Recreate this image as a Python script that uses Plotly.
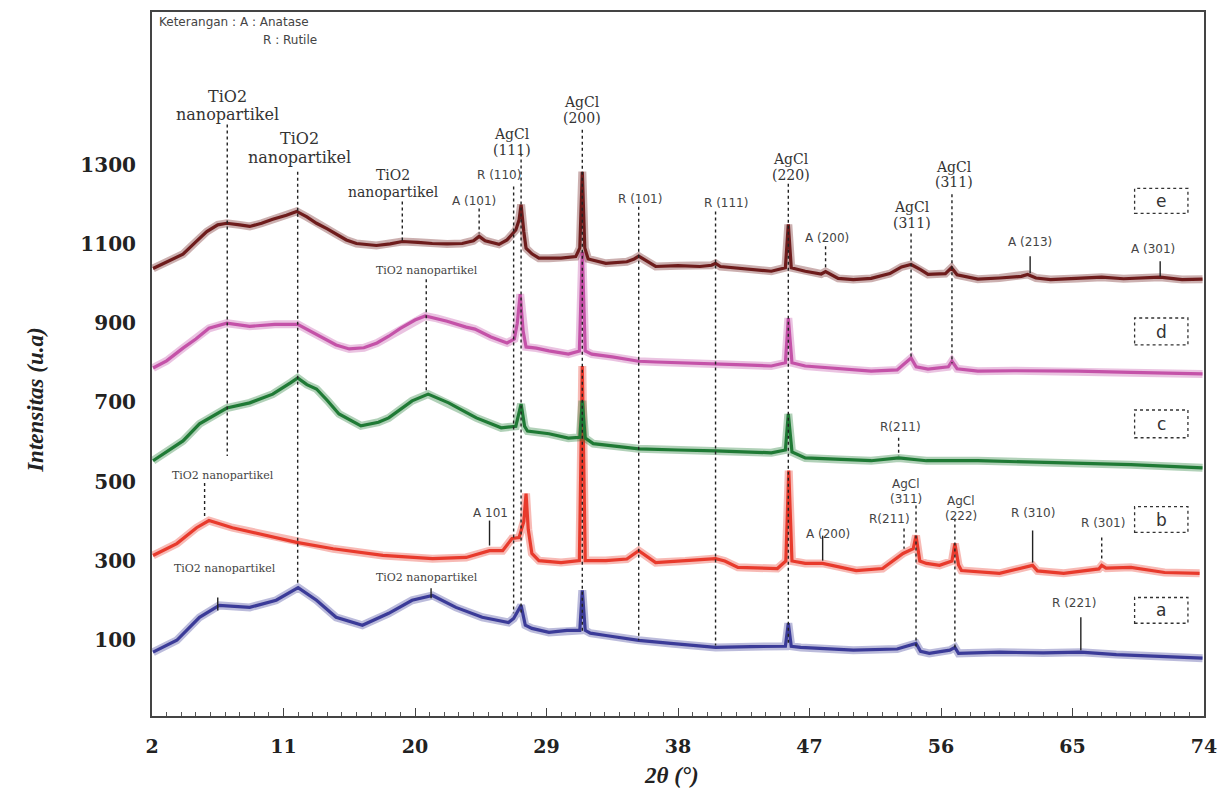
import plotly.graph_objects as go

# ---------------- data ----------------
two_theta_e = [2.07, 3.0, 4.12, 5.0, 5.75, 6.5, 7.12, 8.0, 8.69, 9.5, 10.26, 11.2, 11.9, 12.6, 13.26, 14.0,
               14.63, 15.3, 15.99, 17.36, 18.3, 19.13, 20.2, 21.18, 22.2, 23.23, 24.0, 24.39, 24.8, 25.75,
               26.3, 26.64, 26.9, 27.12, 27.26, 27.45, 27.6, 28.0, 28.48, 29.17, 30.0, 31.0, 31.28, 31.45,
               31.62, 31.85, 33.06, 34.5, 35.0, 35.31, 35.7, 36.47, 38.0, 39.5, 40.3, 40.57, 40.9, 42.5,
               44.39, 45.35, 45.55, 45.75, 46.71, 47.8, 48.1, 48.96, 50.0, 51.22, 52.5, 53.3, 53.95, 54.6,
               55.11, 56.3, 56.72, 57.1, 58.52, 60.0, 61.5, 61.93, 62.5, 63.5, 65.34, 67.0, 68.5, 70.0,
               71.0, 72.5, 73.9]
intensity_e = [1038, 1055, 1074, 1105, 1131, 1148, 1152, 1148, 1144, 1152, 1162, 1172, 1182, 1168, 1152, 1138,
               1124, 1110, 1101, 1096, 1100, 1106, 1104, 1101, 1100, 1101, 1108, 1119, 1108, 1099,
               1110, 1124, 1135, 1160, 1199, 1130, 1089, 1075, 1064, 1064, 1064, 1068, 1090, 1282,
               1090, 1062, 1051, 1055, 1062, 1069, 1060, 1043, 1045, 1043, 1046, 1051, 1043, 1038,
               1031, 1040, 1149, 1040, 1031, 1024, 1030, 1013, 1010, 1013, 1025, 1042, 1048, 1035,
               1023, 1025, 1040, 1022, 1011, 1014, 1018, 1023, 1014, 1010, 1013, 1016, 1012, 1014,
               1016, 1010, 1011]

two_theta_d = [2.07, 3.0, 4.12, 5.0, 5.9, 7.12, 8.69, 10.4, 11.97, 12.8, 13.7, 14.6, 15.5, 16.5, 17.4, 18.2,
               19.0, 20.0, 20.7, 21.5, 22.2, 23.5, 24.1, 25.2, 26.3, 26.8, 27.0, 27.2, 27.4, 27.6, 28.3,
               29.17, 30.5, 31.25, 31.45, 31.65, 32.1, 33.5, 35.31, 36.5, 38.5, 40.57, 42.5, 44.39, 45.35,
               45.55, 45.8, 46.71, 49.0, 51.22, 53.0, 53.95, 54.3, 55.11, 56.5, 56.75, 57.1, 58.52, 61.0,
               65.34, 69.0, 73.9]
intensity_d = [787, 805, 837, 860, 887, 900, 892, 897, 897, 880, 862, 845, 835, 838, 850, 867,
               887, 908, 918, 912, 905, 890, 885, 865, 850, 860, 900, 973, 880, 840, 837,
               830, 822, 830, 1080, 830, 822, 815, 804, 802, 800, 797, 795, 792, 800,
               913, 800, 792, 785, 779, 782, 812, 790, 784, 790, 804, 785, 779, 780,
               779, 776, 772]

two_theta_c = [2.07, 3.0, 4.12, 5.25, 7.12, 8.69, 10.26, 11.5, 11.97, 12.6, 13.26, 14.0, 14.8, 16.3, 17.5,
               18.2, 19.8, 20.9, 22.3, 23.5, 24.2, 25.9, 26.9, 27.26, 27.5, 27.7, 29.17, 30.5, 31.28,
               31.45, 31.65, 32.2, 35.31, 38.0, 40.57, 44.39, 45.35, 45.55, 45.8, 46.71, 49.0, 51.22,
               53.1, 55.0, 58.52, 61.93, 65.34, 69.0, 73.9]
intensity_c = [553, 575, 603, 646, 686, 699, 721, 750, 762, 745, 734, 705, 671, 641, 650,
               661, 704, 721, 699, 675, 661, 636, 640, 696, 640, 628, 621, 610, 612,
               704, 610, 596, 583, 580, 578, 573, 580, 671, 575, 560, 556, 553,
               560, 553, 553, 550, 548, 543, 535]

two_theta_b = [2.07, 3.7, 5.05, 5.9, 7.5, 9.3, 11.9, 14.4, 17.8, 21.2, 23.5, 25.1, 26.0, 26.64, 27.12,
               27.45, 27.6, 27.75, 28.0, 28.48, 30.0, 31.25, 31.45, 31.65, 33.06, 34.5, 35.31, 36.47,
               38.5, 40.57, 41.2, 42.1, 44.8, 45.38, 45.58, 45.8, 46.71, 47.9, 50.2, 52.0, 53.4, 54.1,
               54.29, 54.55, 55.0, 55.9, 56.75, 56.95, 57.2, 57.4, 60.0, 62.27, 62.6, 64.4, 66.8, 67.0,
               67.3, 69.0, 71.3, 73.7]
intensity_b = [314, 344, 384, 402, 384, 369, 347, 331, 314, 306, 309, 326, 326, 357, 359,
               400, 470, 380, 319, 301, 296, 301, 792, 301, 301, 305, 326, 296,
               300, 306, 300, 284, 281, 300, 528, 300, 294, 294, 276, 281, 319, 331,
               364, 300, 294, 289, 300, 344, 290, 276, 269, 289, 275, 269, 280, 289,
               282, 284, 271, 269]

two_theta_a = [2.07, 3.7, 5.25, 6.6, 8.69, 10.5, 12.0, 13.26, 14.6, 16.4, 18.2, 19.8, 21.2, 22.8, 24.6,
               26.4, 26.75, 27.26, 27.55, 28.0, 29.17, 30.4, 31.28, 31.45, 31.65, 32.0, 33.06, 35.31,
               37.5, 40.57, 43.0, 45.35, 45.55, 45.75, 46.4, 50.0, 53.0, 54.29, 54.6, 55.2, 56.6,
               56.95, 57.2, 60.0, 63.0, 65.57, 68.0, 71.0, 73.9]
intensity_a = [70, 100, 158, 188, 183, 201, 233, 201, 158, 138, 168, 201, 213, 183, 158,
               145, 155, 188, 138, 130, 120, 125, 125, 226, 125, 118, 112, 100,
               92, 82, 84, 85, 143, 85, 82, 75, 78, 92, 72, 67, 75,
               82, 67, 70, 68, 70, 64, 60, 55]

sample_names = ["a", "b", "c", "d", "e"]
x_tick_values = [2, 11, 20, 29, 38, 47, 56, 65, 74]
y_tick_values = [100, 300, 500, 700, 900, 1100, 1300]

# ---------------- figure ----------------
series = [
    (two_theta_a, intensity_a, "#3b3b98", "rgba(59,59,152,0.35)"),
    (two_theta_b, intensity_b, "#e83a2c", "rgba(232,58,44,0.35)"),
    (two_theta_c, intensity_c, "#1f7a35", "rgba(31,122,53,0.35)"),
    (two_theta_d, intensity_d, "#c452a8", "rgba(196,82,168,0.35)"),
    (two_theta_e, intensity_e, "#6e1c1c", "rgba(110,28,28,0.35)"),
]

fig = go.Figure()
for (xs, ys, col, halo), name in zip(series, sample_names):
    fig.add_trace(go.Scatter(x=xs, y=ys, mode="lines", name=name + " halo",
                             line=dict(color=halo, width=8), showlegend=False,
                             hoverinfo="skip"))
    fig.add_trace(go.Scatter(x=xs, y=ys, mode="lines", name=name,
                             line=dict(color=col, width=3.2), showlegend=False,
                             hoverinfo="skip"))

# peak marker lines: x, top, bottom, dash
marker_lines = [
    (7.15, 1401, 565, "dot"), (11.97, 1282, 238, "dot"), (19.13, 1207, 1106, "dot"),
    (24.39, 1189, 1126, "dot"), (26.75, 1245, 168, "dot"), (27.26, 1328, 168, "dot"),
    (31.45, 1388, 120, "dot"), (35.31, 1194, 100, "dot"), (40.57, 1182, 87, "dot"),
    (45.55, 1252, 87, "dot"), (48.1, 1094, 1036, "dot"), (53.95, 1126, 809, "dot"),
    (56.75, 1225, 799, "dot"), (62.1, 1069, 1026, "solid"), (71.0, 1056, 1018, "solid"),
    (20.77, 1011, 724, "dot"), (53.1, 611, 565, "dot"), (5.6, 497, 407, "dot"),
    (25.1, 402, 339, "solid"), (47.9, 364, 301, "solid"), (53.47, 382, 331, "dot"),
    (54.29, 440, 80, "dot"), (56.95, 407, 75, "dot"), (62.27, 377, 296, "solid"),
    (67.0, 359, 301, "dot"), (65.57, 158, 75, "solid"), (6.5, 208, 175, "solid"),
    (21.1, 231, 206, "solid"),
]
for x, y0, y1, dash in marker_lines:
    fig.add_shape(type="line", xref="x", yref="y", x0=x, x1=x, y0=y0, y1=y1,
                  line=dict(color="#222222", width=1.4, dash=dash))

fonts = {
    "big": dict(family="DejaVu Serif", size=16, color="#333333"),
    "mid": dict(family="DejaVu Serif", size=14, color="#333333"),
    "agcl": dict(family="DejaVu Serif", size=14, color="#333333"),
    "small": dict(family="DejaVu Serif", size=11, color="#444444"),
    "sans": dict(family="DejaVu Sans", size=12, color="#444444"),
}
peak_labels = [
    ("TiO2", 7.19, 1471, "big"), ("nanopartikel", 7.19, 1426, "big"),
    ("TiO2", 12.1, 1365, "big"), ("nanopartikel", 12.1, 1318, "big"),
    ("TiO2", 18.5, 1275, "mid"), ("nanopartikel", 18.5, 1230, "mid"),
    ("A (101)", 24.05, 1209, "sans"), ("R (110)", 25.75, 1275, "sans"),
    ("AgCl", 26.64, 1378, "agcl"), ("(111)", 26.64, 1338, "agcl"),
    ("AgCl", 31.42, 1458, "agcl"), ("(200)", 31.42, 1418, "agcl"),
    ("R (101)", 35.4, 1214, "sans"), ("R (111)", 41.3, 1202, "sans"),
    ("AgCl", 45.7, 1313, "agcl"), ("(220)", 45.7, 1275, "agcl"),
    ("A (200)", 48.2, 1116, "sans"),
    ("AgCl", 54.0, 1192, "agcl"), ("(311)", 54.0, 1152, "agcl"),
    ("AgCl", 56.9, 1295, "agcl"), ("(311)", 56.9, 1255, "agcl"),
    ("A (213)", 62.1, 1104, "sans"), ("A (301)", 70.5, 1086, "sans"),
    ("TiO2 nanopartikel", 20.8, 1033, "small"), ("R(211)", 53.2, 638, "sans"),
    ("TiO2 nanopartikel", 6.85, 515, "small"), ("A 101", 25.2, 420, "sans"),
    ("TiO2 nanopartikel", 7.0, 281, "small"), ("TiO2 nanopartikel", 20.8, 259, "small"),
    ("A (200)", 48.3, 369, "sans"),
    ("AgCl", 53.6, 495, "sans"), ("(311)", 53.6, 457, "sans"),
    ("R(211)", 52.5, 407, "sans"),
    ("AgCl", 57.4, 452, "sans"), ("(222)", 57.4, 414, "sans"),
    ("R (310)", 62.3, 420, "sans"), ("R (301)", 67.1, 397, "sans"),
    ("R (221)", 65.1, 193, "sans"),
]
for text, x, y, kind in peak_labels:
    fig.add_annotation(x=x, y=y, xref="x", yref="y", text=text, showarrow=False,
                       font=fonts[kind], xanchor="center", yanchor="middle")

# sample boxes
boxes = [("e", 1177, 1240), ("d", 845, 913), ("c", 611, 681), ("b", 372, 437), ("a", 143, 208)]
for letter, y0, y1 in boxes:
    fig.add_shape(type="rect", xref="x", yref="y", x0=69.25, x1=72.9, y0=y0, y1=y1,
                  line=dict(color="#333333", width=1.3, dash="dot"))
    fig.add_annotation(x=71.07, y=(y0 + y1) / 2, xref="x", yref="y", text=letter,
                       showarrow=False, font=dict(family="DejaVu Sans", size=17, color="#333333"))

# legend note
fig.add_annotation(x=2.35, y=1660, xref="x", yref="y", text="Keterangan : A : Anatase",
                   showarrow=False, xanchor="left", yanchor="middle",
                   font=dict(family="DejaVu Sans", size=12, color="#444444"))
fig.add_annotation(x=9.45, y=1614, xref="x", yref="y", text="R : Rutile",
                   showarrow=False, xanchor="left", yanchor="middle",
                   font=dict(family="DejaVu Sans", size=12, color="#444444"))

# axis titles
fig.add_annotation(x=-0.111, y=0.448, xref="paper", yref="paper", text="<b><i>Intensitas (u.a)</i></b>",
                   textangle=-90, showarrow=False, xanchor="center", yanchor="middle",
                   font=dict(family="Liberation Serif", size=23, color="#222222"))
fig.add_annotation(x=0.494, y=-0.084, xref="paper", yref="paper", text="<b><i>2θ (°)</i></b>",
                   showarrow=False, xanchor="center", yanchor="middle",
                   font=dict(family="Liberation Serif", size=23, color="#222222"))

fig.update_layout(
    width=1224, height=785,
    margin=dict(l=144, r=28, t=2, b=77),
    paper_bgcolor="white", plot_bgcolor="white",
    showlegend=False,
)
fig.update_xaxes(
    range=[2, 74], tickvals=x_tick_values, ticktext=[str(v) for v in x_tick_values],
    showgrid=False, zeroline=False, showline=True, mirror=True,
    linecolor="#444444", linewidth=2,
    ticks="inside", ticklen=8, tickwidth=1.3, tickcolor="#444444",
    minor=dict(dtick=1, ticks="inside", ticklen=4, tickwidth=1, tickcolor="#555555", showgrid=False),
    ticklabelstandoff=12,
    tickfont=dict(family="DejaVu Serif", size=19, color="#222222", weight="bold"),
)
fig.update_yaxes(
    range=[-91, 1685], tickvals=y_tick_values, ticktext=[str(v) for v in y_tick_values],
    showgrid=False, zeroline=False, showline=True, mirror=True,
    linecolor="#444444", linewidth=2, ticks="",
    ticklabelstandoff=10,
    tickfont=dict(family="DejaVu Serif", size=20, color="#222222", weight="bold"),
)

fig.write_html("out.html")
